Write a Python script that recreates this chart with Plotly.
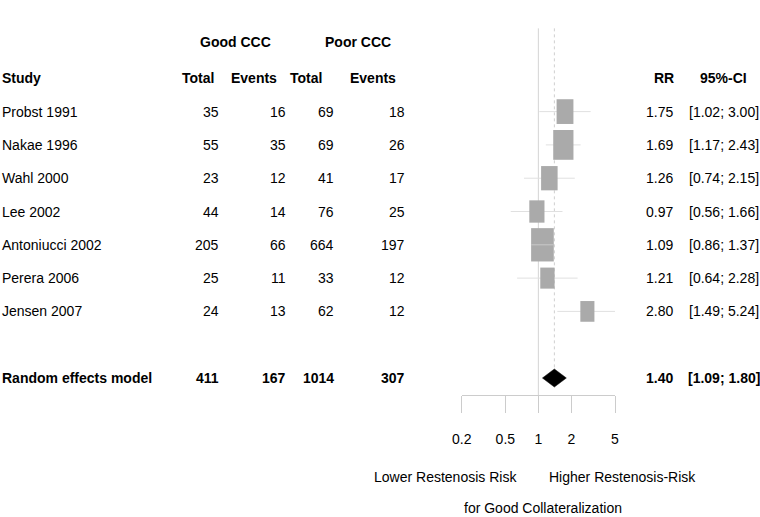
import math
import plotly.graph_objects as go

# ---------------- data ----------------
studies = ["Probst 1991", "Nakae 1996", "Wahl 2000", "Lee 2002",
           "Antoniucci 2002", "Perera 2006", "Jensen 2007"]
good_total = [35, 55, 23, 44, 205, 25, 24]
good_events = [16, 35, 12, 14, 66, 11, 13]
poor_total = [69, 69, 41, 76, 664, 33, 62]
poor_events = [18, 26, 17, 25, 197, 12, 12]
rr = [1.75, 1.69, 1.26, 0.97, 1.09, 1.21, 2.80]
ci_lo = [1.02, 1.17, 0.74, 0.56, 0.86, 0.64, 1.49]
ci_hi = [3.00, 2.43, 2.15, 1.66, 1.37, 2.28, 5.24]
weights = [13.4, 19.4, 12.9, 10.9, 24.3, 9.7, 9.4]

summary_label = "Random effects model"
summary_counts = [411, 167, 1014, 307]
summary_rr = 1.40
summary_lo = 1.09
summary_hi = 1.80

tick_vals = [0.2, 0.5, 1, 2, 5]
tick_text = ["0.2", "0.5", "1", "2", "5"]
label_left = "Lower Restenosis Risk"
label_right = "Higher Restenosis-Risk"
label_bottom = "for Good Collateralization"

# ---------------- layout helpers ----------------
W, H = 760, 517
ROW0_PX = 45.0
ROW_PX = 33.3
y_top = -ROW0_PX / ROW_PX
y_bot = (H - ROW0_PX) / ROW_PX
AX_ROW = (395 - ROW0_PX) / ROW_PX
FOREST_L, FOREST_R = 461.7, 615.0
PX_PER_DEC = (FOREST_R - FOREST_L) / (math.log10(5) - math.log10(0.2))
FONT = "Liberation Sans, Arial, Helvetica, sans-serif"

study_rows = [2 + i for i in range(len(studies))]
summary_row = study_rows[-1] + 2

annotations = []
def txt(text, xpx, row, anchor="left", bold=False):
    annotations.append(dict(
        text=f"<b>{text}</b>" if bold else text,
        x=xpx, y=row, xref="x", yref="y",
        xanchor=anchor, yanchor="middle", showarrow=False, borderpad=0,
        font=dict(family=FONT, size=14, color="black")))

# group headers
txt("Good CCC", 235, -0.1, "center", True)
txt("Poor CCC", 358, -0.1, "center", True)
# column headers
txt("Study", 1, 1, "left", True)
txt("Total", 215, 1, "right", True)
txt("Events", 278, 1, "right", True)
txt("Total", 323, 1, "right", True)
txt("Events", 397, 1, "right", True)
txt("RR", 675, 1, "right", True)
txt("95%-CI", 723, 1, "center", True)

col_right = [220, 287, 335, 406]
for i, name in enumerate(studies):
    r = study_rows[i]
    txt(name, 1, r, "left")
    for xr, v in zip(col_right, [good_total[i], good_events[i], poor_total[i], poor_events[i]]):
        txt(str(v), xr, r, "right")
    txt(f"{rr[i]:.2f}", 674, r, "right")
    txt(f"[{ci_lo[i]:.2f}; {ci_hi[i]:.2f}]", 723.5, r, "center")

txt(summary_label, 1, summary_row, "left", True)
for xr, v in zip(col_right, summary_counts):
    txt(str(v), xr, summary_row, "right", True)
txt(f"{summary_rr:.2f}", 674, summary_row, "right", True)
txt(f"[{summary_lo:.2f}; {summary_hi:.2f}]", 723.5, summary_row, "center", True)

txt(label_left, 518, (477 - ROW0_PX) / ROW_PX, "right")
txt(label_right, 548, (477 - ROW0_PX) / ROW_PX, "left")
txt(label_bottom, 542.5, (508 - ROW0_PX) / ROW_PX, "center")

# ---------------- shapes ----------------
def dx(px_half):
    return 10 ** (px_half / PX_PER_DEC)

shapes = []
diamond_half = 9 / ROW_PX
shapes.append(dict(type="line", xref="x2", yref="y", x0=1, x1=1,
                   y0=-0.5, y1=AX_ROW, line=dict(color="#d4d4d4", width=1),
                   layer="below"))
shapes.append(dict(type="line", xref="x2", yref="y", x0=summary_rr, x1=summary_rr,
                   y0=-0.5, y1=summary_row - diamond_half,
                   line=dict(color="#cfcfcf", width=1, dash="3px,3px"),
                   layer="below"))
for i in range(len(studies)):
    shapes.append(dict(type="line", xref="x2", yref="y", x0=ci_lo[i], x1=ci_hi[i],
                       y0=study_rows[i], y1=study_rows[i],
                       line=dict(color="#e0e0e0", width=1)))
for i in range(len(studies)):
    h = 6.76 * math.sqrt(weights[i])
    w = 0.68 * h
    f = dx(w / 2)
    hr = h / 2 / ROW_PX
    shapes.append(dict(type="rect", xref="x2", yref="y",
                       x0=rr[i] / f, x1=rr[i] * f,
                       y0=study_rows[i] - hr, y1=study_rows[i] + hr,
                       fillcolor="#aaaaaa", line=dict(width=0)))
    lo_px = PX_PER_DEC * (math.log10(rr[i]) - math.log10(ci_lo[i]))
    hi_px = PX_PER_DEC * (math.log10(ci_hi[i]) - math.log10(rr[i]))
    if lo_px <= w / 2 and hi_px <= w / 2:
        shapes.append(dict(type="line", xref="x2", yref="y", x0=ci_lo[i], x1=ci_hi[i],
                           y0=study_rows[i], y1=study_rows[i],
                           line=dict(color="#c8c8c8", width=1)))

fig = go.Figure()
fig.add_trace(go.Scatter(
    x=[summary_lo, summary_rr, summary_hi, summary_rr, summary_lo],
    y=[summary_row, summary_row - diamond_half, summary_row,
       summary_row + diamond_half, summary_row],
    xaxis="x2", yaxis="y", mode="lines", fill="toself",
    fillcolor="black", line=dict(color="black", width=0.5),
    hoverinfo="skip", showlegend=False))
# invisible anchor trace for the text coordinate system
fig.add_trace(go.Scatter(x=[0, W], y=[y_top, y_bot], xaxis="x", yaxis="y",
                         mode="markers", marker=dict(opacity=0),
                         hoverinfo="skip", showlegend=False))

fig.update_layout(
    template="none",
    width=W, height=H, autosize=False,
    margin=dict(l=0, r=0, t=0, b=0, pad=0, autoexpand=False),
    paper_bgcolor="white", plot_bgcolor="rgba(0,0,0,0)",
    showlegend=False,
    xaxis=dict(visible=False, range=[0, W], domain=[0, 1], automargin=False,
               fixedrange=True),
    xaxis2=dict(type="log", domain=[FOREST_L / W, FOREST_R / W],
                range=[math.log10(0.2), math.log10(5)],
                anchor="free", position=(y_bot - AX_ROW) / (y_bot - y_top),
                automargin=False, fixedrange=True,
                showgrid=False, zeroline=False, showline=True,
                linecolor="#cccccc", linewidth=1,
                ticks="outside", ticklen=17, tickcolor="#cccccc", tickwidth=1,
                tickvals=tick_vals, ticktext=tick_text,
                tickfont=dict(family=FONT, size=14, color="black"),
                ticklabelstandoff=14),
    yaxis=dict(visible=False, range=[y_bot, y_top], domain=[0, 1],
               automargin=False, fixedrange=True),
    shapes=shapes,
    annotations=annotations,
)

fig.write_html("out.html", config={"displayModeBar": False, "staticPlot": True},
               post_script="document.body.style.margin='0';document.body.style.overflow='hidden';")
